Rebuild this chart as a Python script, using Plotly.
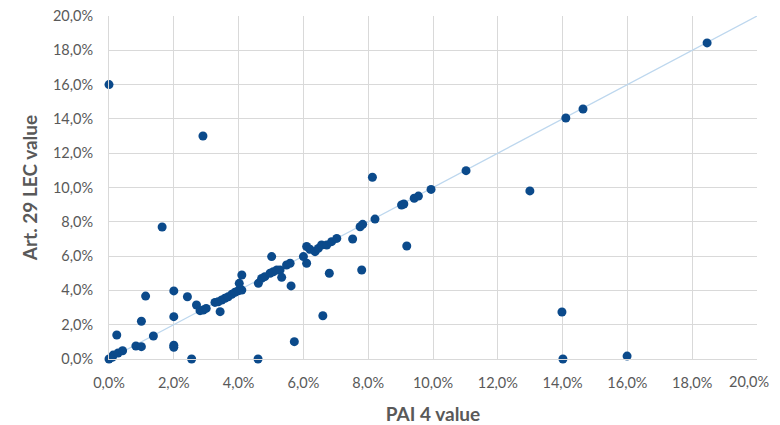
import plotly.graph_objects as go

pai4 = [0.0, 0.1, 0.13, 0.28, 0.42, 0.24, 0.0,
        0.83, 1.0, 1.0, 1.13, 1.37, 1.64,
        2.0, 2.0, 2.0, 2.0, 2.42, 2.55, 2.9,
        2.7, 2.81, 2.91, 3.0,
        3.27, 3.37, 3.48, 3.58, 3.68, 3.79, 3.89, 3.99, 4.1,
        3.43, 4.02, 4.1,
        4.6, 4.61, 4.71, 4.81, 5.02, 4.97, 5.07, 5.18, 5.28, 5.33,
        5.62, 5.48, 5.59, 5.72,
        6.0, 6.1, 6.1, 6.2,
        6.36, 6.46, 6.56, 6.72, 6.87, 7.03,
        6.8, 6.6, 7.52, 7.8, 7.75, 7.83,
        8.13, 8.21, 9.03, 9.1, 9.42, 9.55, 9.94, 11.02,
        9.19, 12.99, 14.1, 14.63, 18.46, 13.98, 14.01, 15.99]
lec29 = [0.0, 0.1, 0.23, 0.35, 0.48, 1.4, 16.0,
         0.76, 0.72, 2.2, 3.67, 1.34, 7.7,
         3.97, 2.47, 0.8, 0.68, 3.63, 0.0, 13.0,
         3.15, 2.82, 2.86, 2.95,
         3.3, 3.34, 3.44, 3.54, 3.63, 3.77, 3.89, 3.98, 4.02,
         2.76, 4.41, 4.9,
         0.0, 4.41, 4.7, 4.8, 5.97, 5.0, 5.09, 5.19, 5.19, 4.76,
         4.26, 5.48, 5.58, 1.01,
         5.97, 6.56, 5.58, 6.4,
         6.26, 6.45, 6.65, 6.65, 6.84, 7.03,
         5.0, 2.52, 7.0, 5.19, 7.71, 7.85,
         10.6, 8.16, 8.98, 9.04, 9.37, 9.5, 9.89, 10.98,
         6.59, 9.8, 14.05, 14.58, 18.43, 2.74, 0.0, 0.17]

ref_x = [0, 20]
ref_y = [0, 20]

tick_vals = [0, 2, 4, 6, 8, 10, 12, 14, 16, 18, 20]
tick_text = ["0,0%", "2,0%", "4,0%", "6,0%", "8,0%", "10,0%",
             "12,0%", "14,0%", "16,0%", "18,0%", "20,0%"]
# last x label is drawn as an annotation anchored at x=20 so it stays on the page
x_tick_text = tick_text[:-1] + [""]

fig = go.Figure()
fig.add_trace(go.Scatter(x=ref_x, y=ref_y, mode="lines",
                         line=dict(color="#bdd7ee", width=1.2),
                         hoverinfo="skip", showlegend=False))
fig.add_trace(go.Scatter(x=pai4, y=lec29, mode="markers",
                         marker=dict(color="#0b4a8b", size=9),
                         showlegend=False, cliponaxis=False))

font_family = "Lato, Open Sans, sans-serif"
tick_font = dict(family=font_family, size=14.5, color="#595959")
axis_common = dict(range=[0, 20], tickvals=tick_vals,
                   showgrid=True, gridcolor="#d9d9d9", automargin=False,
                   gridwidth=1, zeroline=False, showline=True,
                   linecolor="#d9d9d9", linewidth=1, ticks="",
                   ticklabeloverflow="allow", tickfont=tick_font)

fig.add_annotation(x=tick_vals[-1], xref="x", y=0, yref="paper",
                   text=tick_text[-1], showarrow=False, xanchor="right",
                   yanchor="middle", xshift=13, yshift=-22, font=tick_font,
                   borderpad=0)

fig.update_layout(
    width=764, height=417,
    margin=dict(l=101, r=15, t=8, b=66),
    plot_bgcolor="white", paper_bgcolor="white",
    xaxis=dict(**axis_common, ticktext=x_tick_text, ticklabelstandoff=11,
               title=dict(text="<b>PAI 4 value</b>", standoff=22,
                          font=dict(family=font_family, size=19, color="#595959"))),
    yaxis=dict(**axis_common, ticktext=tick_text, ticklabelstandoff=12,
               title=dict(text="<b>Art. 29 LEC value</b>", standoff=10,
                          font=dict(family=font_family, size=19, color="#595959"))),
)
fig.write_html("out.html")
